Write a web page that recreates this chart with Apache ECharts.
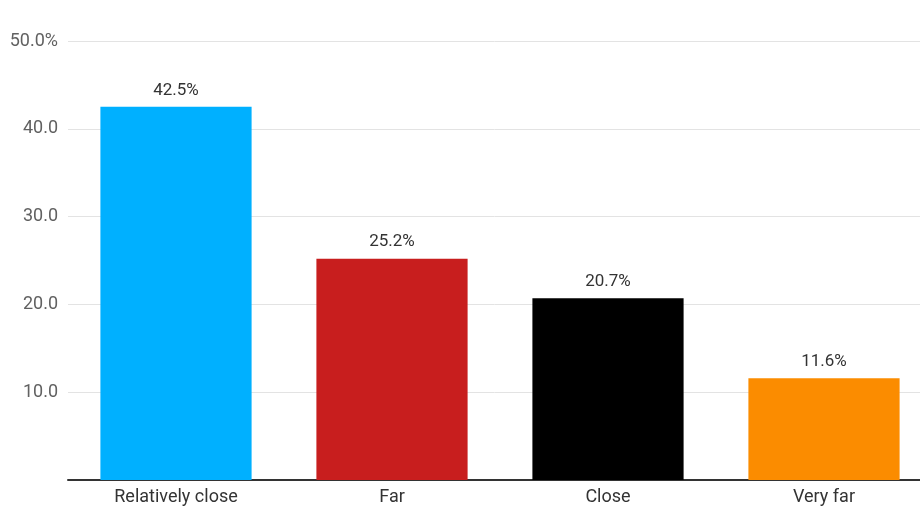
<!DOCTYPE html>
<html>
<head>
<meta charset="utf-8">
<script src="https://cdn.jsdelivr.net/npm/echarts@6/dist/echarts.min.js"></script>
<style>
  html, body { margin: 0; padding: 0; background: #fff; }
  #chart { width: 920px; height: 506px; }
</style>
</head>
<body>
<div id="chart"></div>
<script>
// Share of respondents by perceived distance
const categories = ['Relatively close', 'Far', 'Close', 'Very far'];
const values = [42.5, 25.2, 20.7, 11.6];
const barColors = ['#00b0ff', '#c81e1e', '#000000', '#fb8c00'];
const yTicks = [0, 10, 20, 30, 40, 50];

const chart = echarts.init(document.getElementById('chart'));
chart.setOption({
  animation: false,
  backgroundColor: '#ffffff',
  textStyle: { fontFamily: 'Roboto' },
  // plot area runs past the right edge of the canvas
  grid: {
    left: 68, width: 864, top: 41, bottom: 26,
    containLabel: false,
    outerBoundsMode: 'none'
  },
  xAxis: {
    type: 'category',
    data: categories,
    axisLine: { lineStyle: { color: '#333333', width: 2 } },
    axisTick: { show: false },
    axisLabel: { color: '#333333', fontSize: 18, margin: 8, fontFamily: 'Roboto' }
  },
  yAxis: {
    type: 'value',
    min: yTicks[0],
    max: yTicks[yTicks.length - 1],
    interval: 10,
    axisLine: { show: false },
    axisTick: { show: false },
    splitLine: { lineStyle: { color: '#e3e3e3', width: 1 } },
    axisLabel: {
      color: '#616161',
      fontSize: 18,
      margin: 10,
      fontFamily: 'Roboto',
      formatter: function (v) {
        if (v === 0) return '';
        return v === 50 ? v.toFixed(1) + '%' : v.toFixed(1);
      }
    }
  },
  series: [{
    type: 'bar',
    barWidth: '70%',
    data: values.map(function (v, i) {
      return { value: v, itemStyle: { color: barColors[i] } };
    }),
    label: {
      show: true,
      position: 'top',
      distance: 8,
      color: '#333333',
      fontSize: 17,
      fontFamily: 'Roboto',
      formatter: function (p) { return p.value.toFixed(1) + '%'; }
    }
  }]
});
</script>
</body>
</html>
